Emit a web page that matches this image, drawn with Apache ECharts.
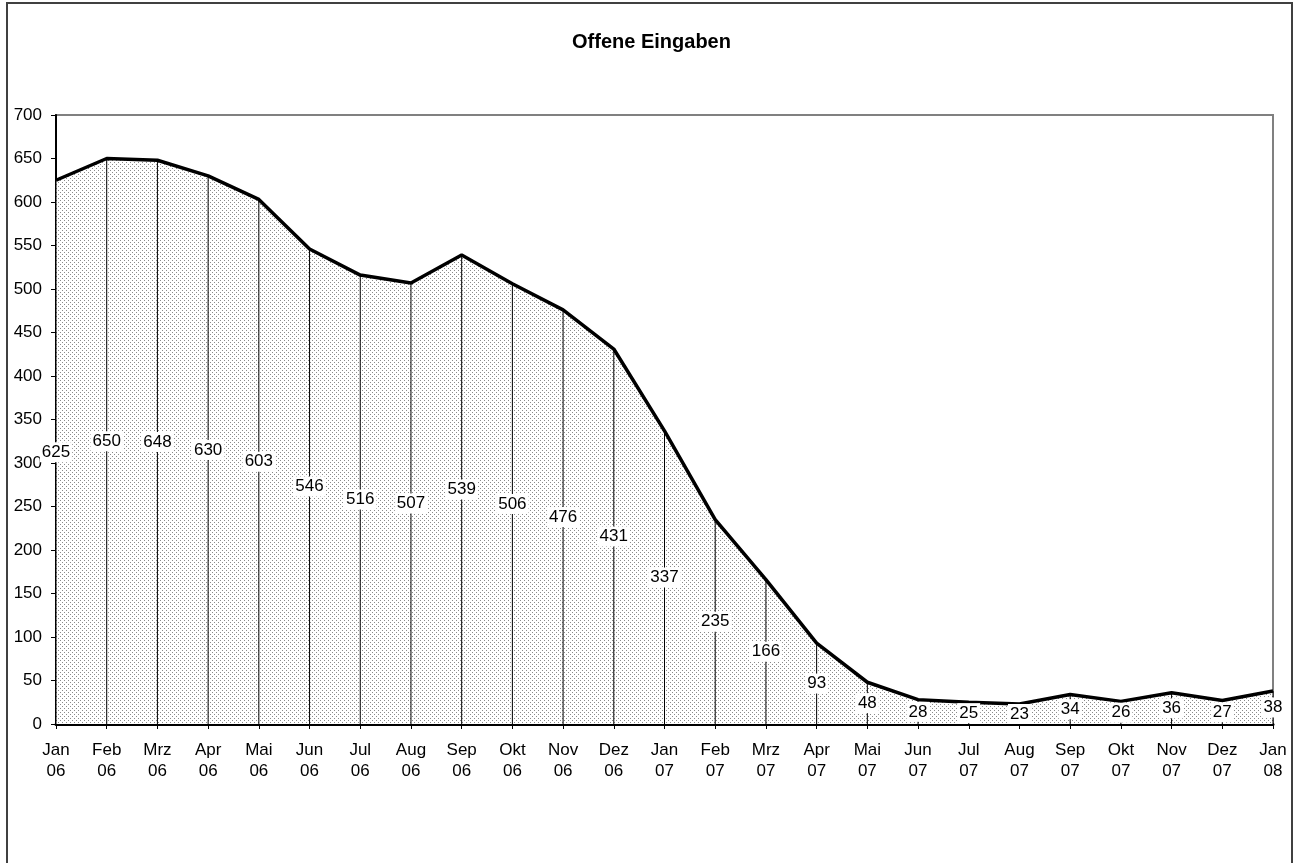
<!DOCTYPE html>
<html>
<head>
<meta charset="utf-8">
<script src="https://cdn.jsdelivr.net/npm/echarts@6/dist/echarts.min.js"></script>
<style>html,body{margin:0;padding:0;background:#fff}#c{width:1303px;height:863px}</style>
</head>
<body>
<div id="c"></div>
<script>
const categories = ['Jan\n06','Feb\n06','Mrz\n06','Apr\n06','Mai\n06','Jun\n06','Jul\n06','Aug\n06','Sep\n06','Okt\n06','Nov\n06','Dez\n06',
  'Jan\n07','Feb\n07','Mrz\n07','Apr\n07','Mai\n07','Jun\n07','Jul\n07','Aug\n07','Sep\n07','Okt\n07','Nov\n07','Dez\n07','Jan\n08'];
const values = [625,650,648,630,603,546,516,507,539,506,476,431,337,235,166,93,48,28,25,23,34,26,36,27,38];
const yMin = 0, yMax = 700, yStep = 50;

function dotPattern(){
  const c = document.createElement('canvas');
  c.width = 4; c.height = 4;
  const g = c.getContext('2d');
  g.fillStyle = '#fff'; g.fillRect(0,0,4,4);
  g.fillStyle = '#8a8a8a';
  g.fillRect(0,0,1,1);
  g.fillRect(2,2,1,1);
  return c;
}

const chart = echarts.init(document.getElementById('c'), null, {renderer:'canvas'});
const font = 'Liberation Sans, Arial, sans-serif';
chart.setOption({
  backgroundColor:'#fff',
  animation:false,
  title:{text:'Offene Eingaben', left:'center', top:27,
    textStyle:{fontFamily:font, fontSize:20, fontWeight:'bold', color:'#000'}},
  graphic:[{type:'rect', shape:{x:7,y:3,width:1285,height:900},
    style:{fill:null, stroke:'#404040', lineWidth:2}, z:-10}],
  grid:{left:56, right:30, top:115, bottom:139, show:true, borderColor:'#808080', borderWidth:2, backgroundColor:'transparent'},
  xAxis:{type:'category', data:categories, boundaryGap:false,
    axisLine:{lineStyle:{color:'#000', width:3}},
    axisTick:{show:true, length:5, lineStyle:{color:'#000'}, interval:0},
    axisLabel:{interval:0, fontFamily:font, fontSize:17, color:'#000', margin:16, lineHeight:21},
    splitLine:{show:false}},
  yAxis:{type:'value', min:yMin, max:yMax, interval:yStep,
    axisLine:{show:true, lineStyle:{color:'#000', width:2}},
    axisTick:{show:true, length:5, lineStyle:{color:'#000'}},
    axisLabel:{fontFamily:font, fontSize:17, color:'#000', margin:14},
    splitLine:{show:false}},
  series:[
    {type:'line', data:values, symbol:'none', z:2,
      lineStyle:{color:'#000', width:3.5},
      areaStyle:{color:{image:dotPattern(), repeat:'repeat'}, opacity:1}},
    {type:'bar', data:values, barWidth:1, z:3,
      itemStyle:{color:'#000'},
      label:{show:true, position:'inside', fontFamily:font, fontSize:17, color:'#000',
        backgroundColor:'#fff', padding:[2,2,1,2]}}
  ]
});
</script>
</body>
</html>
